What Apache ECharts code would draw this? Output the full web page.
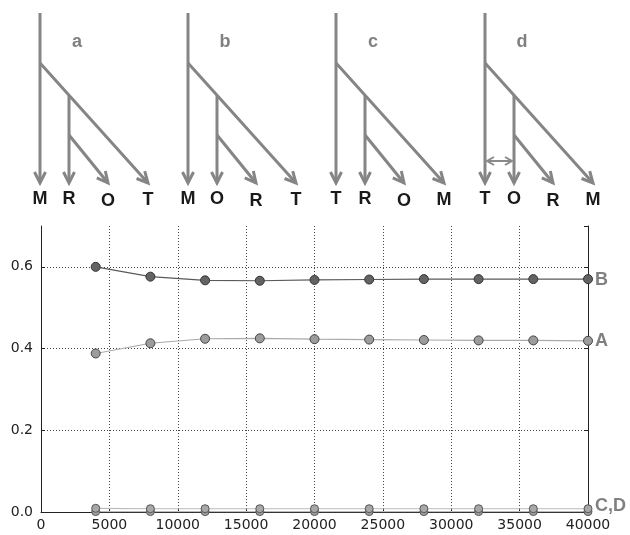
<!DOCTYPE html>
<html>
<head>
<meta charset="utf-8">
<script src="https://cdn.jsdelivr.net/npm/echarts@6/dist/echarts.min.js"></script>
<style>html,body{margin:0;padding:0;background:#fff}#c{width:630px;height:535px}</style>
</head>
<body>
<div id="c"></div>
<script>
// ---- data ----
const xValues = [4000, 8000, 12000, 16000, 20000, 24000, 28000, 32000, 36000, 40000];
const seriesB = [0.600, 0.576, 0.567, 0.566, 0.568, 0.569, 0.570, 0.570, 0.570, 0.570];
const seriesA = [0.388, 0.413, 0.424, 0.425, 0.423, 0.422, 0.421, 0.420, 0.420, 0.419];
const seriesC = [0.009, 0.008, 0.008, 0.008, 0.008, 0.008, 0.008, 0.008, 0.008, 0.008];
const seriesD = [0.001, 0.001, 0.001, 0.001, 0.001, 0.001, 0.001, 0.001, 0.001, 0.001];
const xTicks = [0, 5000, 10000, 15000, 20000, 25000, 30000, 35000, 40000];
const yTicks = [0.0, 0.2, 0.4, 0.6];
const treeNames = ['a', 'b', 'c', 'd'];
const treeLeaves = [['M', 'R', 'O', 'T'], ['M', 'O', 'R', 'T'], ['T', 'R', 'O', 'M'], ['T', 'O', 'R', 'M']];

const chart = echarts.init(document.getElementById('c'), null, {renderer: 'canvas'});

// ---- tree diagrams (graphic) ----
const LC = '#858585';
function arrowHead(tx, ty, fx, fy, len, half) {
  const dx = tx - fx, dy = ty - fy, L = Math.hypot(dx, dy);
  const ux = dx / L, uy = dy / L, px = -uy, py = ux;
  return [[tx - len * ux + half * px, ty - len * uy + half * py], [tx, ty], [tx - len * ux - half * px, ty - len * uy - half * py]];
}
function line(points, w, color) {
  return {type: 'polyline', shape: {points: points}, style: {stroke: color || LC, lineWidth: w || 3, fill: null, lineJoin: 'miter'}, silent: true};
}
const graphics = [];
const treeX = [40, 188, 336, 485];
treeX.forEach((x0, i) => {
  const top = 13, bot = 183;
  graphics.push(line([[x0, top], [x0, bot]]));
  graphics.push(line(arrowHead(x0, bot, x0, top, 11, 5.5)));
  const d0 = [x0, 63], d1 = [x0 + 108, bot];
  graphics.push(line([d0, d1]));
  graphics.push(line(arrowHead(d1[0], d1[1], d0[0], d0[1], 11, 5.5)));
  const bx = x0 + 29, by = 63 + 29 * 120 / 108;
  graphics.push(line([[bx, by], [bx, bot]]));
  graphics.push(line(arrowHead(bx, bot, bx, by, 11, 5.5)));
  const s0 = [bx, 135], s1 = [x0 + 68, bot];
  graphics.push(line([s0, s1]));
  graphics.push(line(arrowHead(s1[0], s1[1], s0[0], s0[1], 11, 5.5)));
  graphics.push({type: 'text', x: x0 + 37, y: 42, silent: true,
    style: {text: treeNames[i], fill: '#808080', font: 'bold 18px "Liberation Sans", Arial, sans-serif', align: 'center', verticalAlign: 'middle'}});
  const lx = [x0, bx, x0 + 68, x0 + 108];
  const ly = [199, 199, 201, 200];
  treeLeaves[i].forEach((t, k) => {
    graphics.push({type: 'text', x: lx[k], y: ly[k], silent: true,
      style: {text: t, fill: '#1a1a1a', font: 'bold 18px "Liberation Sans", Arial, sans-serif', align: 'center', verticalAlign: 'middle'}});
  });
  if (i === 3) {
    const hy = 161;
    graphics.push(line([[x0 + 2, hy], [bx - 2, hy]], 2, '#8a8a8a'));
    graphics.push(line(arrowHead(x0 + 2, hy, bx, hy, 7, 4), 2, '#8a8a8a'));
    graphics.push(line(arrowHead(bx - 2, hy, x0, hy, 7, 4), 2, '#8a8a8a'));
  }
});

const pairs = arr => xValues.map((x, i) => [x, arr[i]]);
const endLbl = (txt, dy) => ({show: true, formatter: txt, color: '#808080', fontSize: 18, fontWeight: 'bold',
  fontFamily: '"Liberation Sans", Arial, sans-serif', distance: 7, offset: [0, dy]});

const option = {
  animation: false,
  backgroundColor: '#fff',
  graphic: graphics,
  grid: {left: 41, right: 42, top: 226, bottom: 23, containLabel: false},
  xAxis: {
    type: 'value', min: 0, max: 40000, interval: 5000,
    axisLine: {show: true, onZero: false, lineStyle: {color: '#222', width: 1}},
    axisTick: {show: true, inside: true, length: 4, lineStyle: {color: '#222'}},
    axisLabel: {color: '#222', fontSize: 14, fontFamily: '"DejaVu Sans", sans-serif', margin: 6,
      formatter: v => String(Math.round(v))},
    splitLine: {show: true, lineStyle: {color: '#444', type: [1, 2], width: 1}}
  },
  yAxis: [{
    type: 'value', min: 0, max: 0.7, interval: 0.2, position: 'left',
    axisLine: {show: true, lineStyle: {color: '#222', width: 1}},
    axisTick: {show: true, inside: true, length: 4, lineStyle: {color: '#222'}},
    axisLabel: {color: '#222', fontSize: 14, fontFamily: '"DejaVu Sans", sans-serif', margin: 8, showMaxLabel: false,
      formatter: v => (Math.abs(v - 0.7) < 1e-9 ? '' : v.toFixed(1))},
    splitLine: {show: true, showMinLine: false, showMaxLine: false, lineStyle: {color: '#444', type: [1, 2], width: 1}}
  }, {
    type: 'value', min: 0, max: 0.7, interval: 0.2, position: 'right',
    axisLine: {show: true, lineStyle: {color: '#222', width: 1}},
    axisTick: {show: true, inside: true, length: 4, lineStyle: {color: '#222'}},
    axisLabel: {show: false},
    splitLine: {show: false}
  }],
  series: [
    {name: 'B', type: 'line', data: pairs(seriesB), symbol: 'circle', symbolSize: 9, z: 5,
      lineStyle: {color: '#5a5a5a', width: 1.2}, itemStyle: {color: '#636363', borderColor: '#333', borderWidth: 1},
      endLabel: endLbl('B', 1)},
    {name: 'A', type: 'line', data: pairs(seriesA), symbol: 'circle', symbolSize: 9, z: 4,
      lineStyle: {color: '#aaaaaa', width: 1.2}, itemStyle: {color: '#9c9c9c', borderColor: '#444', borderWidth: 1},
      endLabel: endLbl('A', 0)},
    {name: 'D', type: 'line', data: pairs(seriesD), symbol: 'circle', symbolSize: 8, z: 3,
      lineStyle: {color: '#bbbbbb', width: 1.2}, itemStyle: {color: '#a0a0a0', borderColor: '#555', borderWidth: 1}},
    {name: 'C', type: 'line', data: pairs(seriesC), symbol: 'circle', symbolSize: 8, z: 3,
      lineStyle: {color: '#bbbbbb', width: 1.2}, itemStyle: {color: '#a8a8a8', borderColor: '#555', borderWidth: 1},
      endLabel: endLbl('C,D', -3)}
  ]
};
chart.setOption(option);
</script>
</body>
</html>
